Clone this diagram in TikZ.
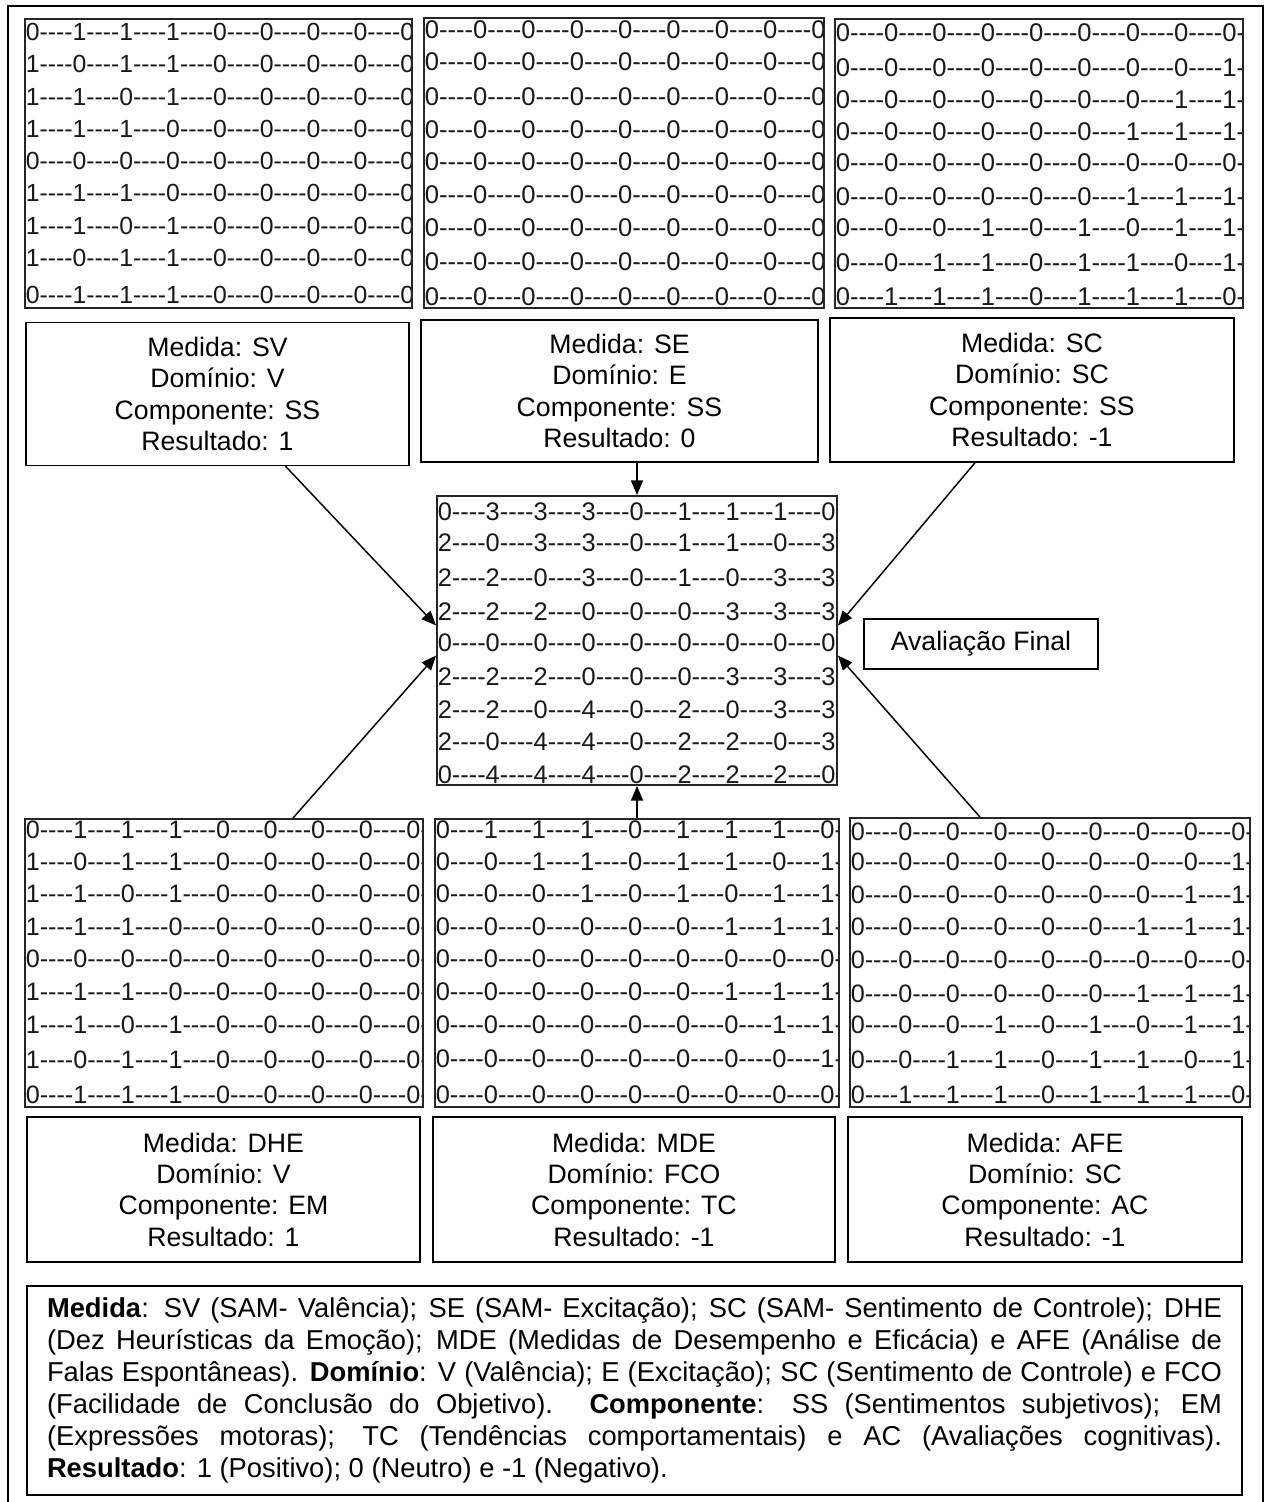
\documentclass[tikz,border=0pt]{standalone}
\usepackage{fontspec}
\setmainfont{Liberation Sans}
\newfontfamily\numfont{Liberation Sans}[Ligatures=TeXOff]
\usetikzlibrary{arrows.meta,calc}
\def\RW#1#2#3#4#5#6#7#8#9{#1----#2----#3----#4----#5----#6----#7----#8----#9----}
\newcommand\drawmat[7]{%
  \begin{scope}
    \clip (#2,#3) rectangle (#4,#5);
    \foreach \yy/\dd [count=\k] in {#7} {
      \node[rowtxt, font=\numfont\fontsize{#6}{#6}\selectfont] (#1r\k) at (#2+0.5,\yy) {\expandafter\RW\dd};
    }
  \end{scope}
  \node[matbox, minimum width={(#4-#2)*0.75pt}, minimum height={(#5-#3)*0.75pt}] (#1) at ({(#2+#4)/2},{(#3+#5)/2}) {};
}
\begin{document}
\begin{tikzpicture}[x=0.75pt,y=-0.75pt,
  matbox/.style={draw=black!85, line width=1.4pt, inner sep=0pt},
  labbox/.style={draw, line width=1.1pt, align=center, inner sep=0pt, font=\fontsize{20}{23.5}\selectfont},
  rowtxt/.style={anchor=west, inner sep=0pt, text=black!90},
  arr/.style={-{Triangle[length=11pt,width=9pt]}, line width=1.1pt}]
\useasboundingbox (0,0) rectangle (1267,1502);
\fill[white] (0,0) rectangle (1267,1502);
\draw[line width=1.5pt] (8,6) rectangle (1263,1515);

% matrices
\drawmat{tl}{25}{19}{412}{308}{18.6}{32/011100000,64/101100000,97/110100000,129/111000000,161/000000000,193/111000000,226/110100000,258/101100000,295/011100000}
\drawmat{tm}{424}{18}{824}{308}{19.2}{30/000000000,62/000000000,97/000000000,130/000000000,162/000000000,195/000000000,228/000000000,262/000000000,297/000000000}
\drawmat{tr}{835}{19}{1243}{308}{19.2}{33/000000000,68/000000001,100/000000011,132/000000111,163/000000000,197/000000111,228/000101011,263/001101101,297/011101110}
\drawmat{c}{437}{496}{837}{785}{19.05}{512/033301110,543/203301103,578/220301033,612/222000333,643/000000000,677/222000333,710/220402033,742/204402203,775/044402220}
\drawmat{bl}{25}{819}{423}{1107}{18.9}{830/011100000,862/101100000,894/110100000,927/111000000,959/000000000,992/111000000,1025/110100000,1060/101100000,1095/011100000}
\drawmat{bm}{435}{819}{839}{1107}{19.1}{830/011101110,862/001101101,894/000101011,927/000000111,959/000000000,992/000000111,1025/000000011,1059/000000001,1095/000000000}
\drawmat{br}{850}{818}{1250}{1107}{18.9}{832/000000000,862/000000001,895/000000011,927/000000111,960/000000000,994/000000111,1025/000101011,1060/001101101,1095/011101110}

% label boxes
\node[labbox, minimum width={383*0.75pt}, minimum height={143*0.75pt}] (sv) at (217.5,394) {Medida: SV\\Domínio: V\\Componente: SS\\Resultado: 1};
\node[labbox, minimum width={397*0.75pt}, minimum height={142*0.75pt}] (se) at (619.5,391) {Medida: SE\\Domínio: E\\Componente: SS\\Resultado: 0};
\node[labbox, minimum width={404*0.75pt}, minimum height={144*0.75pt}] (sc) at (1032,390) {Medida: SC\\Domínio: SC\\Componente: SS\\Resultado: -1};
\node[labbox, minimum width={393*0.75pt}, minimum height={145*0.75pt}] (dhe) at (223.5,1189.5) {Medida: DHE\\Domínio: V\\Componente: EM\\Resultado: 1};
\node[labbox, minimum width={402*0.75pt}, minimum height={145*0.75pt}] (mde) at (634,1189.5) {Medida: MDE\\Domínio: FCO\\Componente: TC\\Resultado: -1};
\node[labbox, minimum width={394*0.75pt}, minimum height={145*0.75pt}] (afe) at (1045,1189.5) {Medida: AFE\\Domínio: SC\\Componente: AC\\Resultado: -1};

\node[labbox, minimum width={234*0.75pt}, minimum height={50*0.75pt}] (af) at (981,644) {Avaliação Final};

% arrows
\draw[arr] ($(sv.south)+(68,0)$) -- ($(c.west)+(0,-15)$);
\draw[arr] (se.south -| c.north) -- (c.north);
\draw[arr] ($(sc.south)+(-57,0)$) -- ($(c.east)+(0,-15)$);
\draw[arr] ($(bl.north)+(69,0)$) -- ($(c.west)+(0,15)$);
\draw[arr] (bm.north) -- (c.south);
\draw[arr] ($(br.north)+(-70,0)$) -- ($(c.east)+(0,15)$);

% legend
\node[draw, line width=1.1pt, text width=881.25pt, inner xsep=15pt, inner ysep=0pt, minimum height={209*0.75pt}, align=justify, font=\fontsize{20.5}{24}\selectfont] (leg) at (634.5,1390.5) {\textbf{Medida}: SV (SAM- Valência); SE (SAM- Excitação); SC (SAM- Sentimento de Controle); DHE\linebreak (Dez Heurísticas da Emoção); MDE (Medidas de Desempenho e Eficácia) e AFE (Análise de\linebreak Falas Espontâneas). \textbf{Domínio}: V (Valência); E (Excitação); SC (Sentimento de Controle) e FCO\linebreak (Facilidade de Conclusão do Objetivo). \textbf{Componente}: SS (Sentimentos subjetivos); EM\linebreak (Expressões motoras); TC (Tendências comportamentais) e AC (Avaliações cognitivas).\linebreak \textbf{Resultado}: 1 (Positivo); 0 (Neutro) e -1 (Negativo).};
\end{tikzpicture}
\end{document}
